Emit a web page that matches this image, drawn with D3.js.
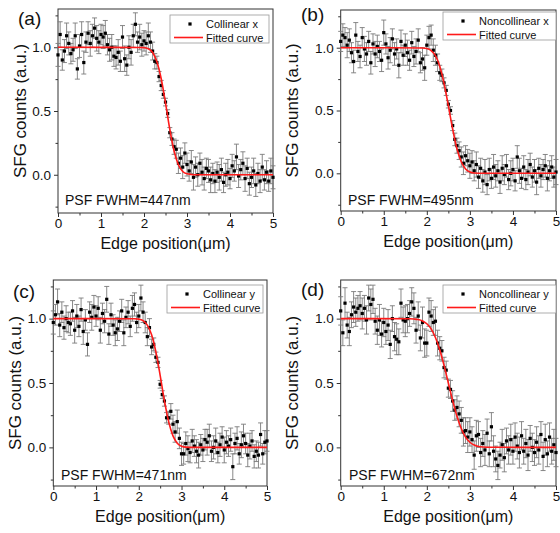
<!DOCTYPE html>
<html>
<head>
<meta charset="utf-8">
<script src="https://cdn.jsdelivr.net/npm/d3@7"></script>
<style>
  body { margin: 0; background: #fff; }
  svg { font-family: Arial, "Liberation Sans", sans-serif; }
</style>
</head>
<body>
<svg id="fig" width="560" height="533"></svg>
<script>
// scan positions (um), 0.05 um step, 101 samples
const edgePos = d3.range(101).map(i => +(i * 0.05).toFixed(2));

// (a) collinear x
const countsA = [0.94, 1.10, 0.90, 0.97, 1.09, 1.03, 0.95, 0.98, 1.09, 0.83, 1.01,
  1.10, 0.88, 1.04, 1.11, 1.03, 1.09, 1.15, 1.07, 1.04, 1.10,
  1.08, 1.11, 1.02, 0.98, 1.00, 0.93, 0.92, 0.96, 0.89, 1.08,
  0.91, 0.86, 1.00, 0.96, 1.09, 1.18, 1.04, 1.08, 1.02, 1.05,
  1.03, 1.09, 1.04, 0.97, 0.89, 0.88, 0.77, 0.70, 0.63, 0.57,
  0.48, 0.33, 0.28, 0.22, 0.20, 0.09, 0.13, 0.06, 0.17, 0.08,
  0.03, 0.10, -0.02, 0.06, 0.00, 0.09, 0.02, -0.03, 0.05, 0.03,
  -0.04, 0.01, -0.05, 0.02, -0.02, 0.04, -0.06, 0.00, 0.02, -0.03,
  0.07, 0.03, 0.14, -0.01, 0.04, 0.09, -0.03, 0.05, -0.07, -0.02,
  0.03, -0.08, 0.01, -0.05, 0.06, -0.04, 0.02, -0.05, 0.03, -0.02];
const errA = [0.09, 0.10, 0.08, 0.09, 0.10, 0.09, 0.08, 0.09, 0.10, 0.08, 0.09,
  0.10, 0.09, 0.08, 0.09, 0.10, 0.09, 0.08, 0.10, 0.09, 0.08,
  0.09, 0.10, 0.08, 0.09, 0.10, 0.08, 0.09, 0.10, 0.08, 0.09,
  0.10, 0.08, 0.09, 0.10, 0.09, 0.09, 0.08, 0.10, 0.09, 0.08,
  0.09, 0.10, 0.08, 0.07, 0.06, 0.05, 0.04, 0.04, 0.03, 0.03,
  0.03, 0.04, 0.05, 0.06, 0.07, 0.08, 0.08, 0.09, 0.08, 0.09,
  0.08, 0.09, 0.10, 0.08, 0.09, 0.08, 0.10, 0.09, 0.08, 0.09,
  0.10, 0.08, 0.09, 0.08, 0.10, 0.09, 0.08, 0.09, 0.10, 0.08,
  0.09, 0.08, 0.10, 0.09, 0.08, 0.09, 0.10, 0.08, 0.09, 0.08,
  0.10, 0.09, 0.08, 0.09, 0.10, 0.08, 0.09, 0.08, 0.10, 0.09];
const fitXA = [0, 1.9, 2.0, 2.1, 2.2, 2.3, 2.4, 2.5, 2.6, 2.7, 2.8, 2.9, 3.0, 3.1, 3.2, 5];
const fitYA = [1, 0.998, 0.997, 0.988, 0.959, 0.887, 0.753, 0.563, 0.356, 0.186, 0.078, 0.026, 0.007, 0.002, 0, 0];

// (b) noncollinear x
const countsB = [1.05, 1.10, 1.08, 1.02, 1.06, 0.96, 0.89, 1.10, 0.97, 0.93, 1.08,
  0.99, 0.95, 1.05, 0.88, 1.03, 0.95, 1.01, 0.97, 0.90, 1.12,
  1.03, 0.92, 0.98, 1.07, 0.95, 0.99, 0.86, 1.05, 0.94, 1.02,
  0.96, 0.90, 1.04, 0.93, 0.97, 1.06, 0.88, 0.91, 0.84, 1.02,
  1.08, 1.10, 0.98, 0.94, 0.88, 0.80, 0.78, 0.72, 0.66, 0.55,
  0.50, 0.38, 0.27, 0.22, 0.18, 0.13, 0.08, 0.14, 0.10, 0.06,
  0.09, 0.02, 0.07, -0.03, 0.04, -0.06, 0.01, -0.09, 0.03, -0.04,
  0.05, -0.02, 0.02, -0.07, 0.04, -0.01, 0.06, -0.05, 0.00, 0.03,
  -0.06, 0.13, 0.02, -0.04, 0.05, -0.05, 0.01, 0.07, -0.03, 0.02,
  -0.07, 0.04, -0.02, 0.03, 0.06, -0.04, 0.02, 0.05, -0.03, 0.01];
const errB = [0.08, 0.09, 0.08, 0.10, 0.09, 0.08, 0.09, 0.10, 0.08, 0.09, 0.08,
  0.10, 0.09, 0.08, 0.09, 0.08, 0.10, 0.09, 0.08, 0.09, 0.10,
  0.08, 0.09, 0.10, 0.08, 0.09, 0.08, 0.10, 0.09, 0.08, 0.09,
  0.10, 0.08, 0.09, 0.08, 0.10, 0.09, 0.08, 0.09, 0.10, 0.08,
  0.09, 0.08, 0.09, 0.08, 0.07, 0.06, 0.05, 0.04, 0.04, 0.03,
  0.03, 0.04, 0.05, 0.06, 0.07, 0.08, 0.09, 0.08, 0.09, 0.10,
  0.09, 0.08, 0.10, 0.09, 0.08, 0.09, 0.10, 0.08, 0.09, 0.08,
  0.10, 0.09, 0.08, 0.09, 0.10, 0.08, 0.09, 0.08, 0.10, 0.09,
  0.08, 0.09, 0.10, 0.08, 0.09, 0.08, 0.10, 0.09, 0.08, 0.09,
  0.10, 0.08, 0.09, 0.08, 0.09, 0.10, 0.08, 0.09, 0.08, 0.10];
const fitXB = [0, 1.9, 2.0, 2.1, 2.2, 2.3, 2.4, 2.5, 2.6, 2.7, 2.8, 2.9, 3.0, 3.1, 3.3, 5];
const fitYB = [1, 0.998, 0.993, 0.977, 0.936, 0.853, 0.716, 0.538, 0.352, 0.195, 0.092, 0.035, 0.011, 0.003, 0, 0];

// (c) collinear y
const countsC = [0.97, 1.03, 1.13, 0.95, 1.05, 0.93, 1.00, 0.97, 0.96, 1.06, 0.91,
  1.02, 0.94, 1.07, 0.90, 0.99, 0.80, 1.05, 1.01, 1.09, 1.02,
  1.08, 0.91, 1.04, 0.98, 1.15, 0.88, 1.03, 0.95, 0.89, 0.92,
  0.98, 1.06, 0.89, 1.01, 1.05, 0.94, 1.08, 1.11, 0.97, 1.02,
  1.16, 1.05, 0.97, 0.86, 0.93, 0.78, 0.80, 0.70, 0.66, 0.49,
  0.41, 0.36, 0.23, 0.23, 0.28, 0.18, 0.12, 0.20, 0.07, -0.05,
  -0.05, 0.03, -0.01, -0.04, 0.05, 0.01, -0.03, -0.06, 0.02, -0.02,
  0.06, 0.04, 0.09, -0.03, 0.00, 0.05, -0.04, 0.02, 0.08, -0.02,
  0.04, 0.01, 0.06, -0.15, 0.03, 0.07, -0.05, 0.02, 0.09, 0.03,
  -0.06, 0.01, 0.05, -0.07, -0.03, -0.06, 0.10, -0.05, 0.04, 0.05];
const errC = [0.09, 0.08, 0.10, 0.09, 0.08, 0.09, 0.10, 0.08, 0.09, 0.08, 0.10,
  0.09, 0.08, 0.09, 0.10, 0.08, 0.09, 0.08, 0.10, 0.09, 0.08,
  0.09, 0.10, 0.08, 0.09, 0.10, 0.08, 0.09, 0.08, 0.10, 0.09,
  0.08, 0.09, 0.10, 0.08, 0.09, 0.08, 0.10, 0.09, 0.08, 0.09,
  0.10, 0.08, 0.08, 0.07, 0.07, 0.06, 0.05, 0.04, 0.04, 0.03,
  0.03, 0.04, 0.04, 0.05, 0.06, 0.07, 0.08, 0.09, 0.08, 0.09,
  0.08, 0.09, 0.10, 0.08, 0.09, 0.08, 0.09, 0.10, 0.08, 0.09,
  0.08, 0.10, 0.09, 0.08, 0.09, 0.10, 0.08, 0.09, 0.08, 0.10,
  0.09, 0.08, 0.09, 0.10, 0.08, 0.09, 0.08, 0.10, 0.09, 0.08,
  0.09, 0.10, 0.08, 0.09, 0.08, 0.10, 0.09, 0.08, 0.09, 0.08];
const fitXC = [0, 1.9, 2.0, 2.1, 2.2, 2.3, 2.4, 2.5, 2.6, 2.7, 2.8, 2.9, 3.0, 3.1, 3.3, 5];
const fitYC = [1, 0.999, 0.996, 0.984, 0.95, 0.875, 0.742, 0.56, 0.363, 0.198, 0.089, 0.032, 0.009, 0.002, 0, 0];

// (d) noncollinear y
const countsD = [1.06, 0.89, 1.12, 0.95, 0.90, 1.03, 1.09, 1.05, 1.08, 1.10, 1.04,
  1.08, 0.99, 1.16, 1.11, 1.15, 0.98, 0.91, 0.99, 0.88, 0.97,
  0.90, 0.95, 0.80, 1.00, 0.86, 0.84, 0.82, 1.12, 0.99, 0.98,
  1.00, 1.04, 1.13, 1.08, 0.91, 1.02, 0.85, 0.97, 0.81, 0.81,
  1.05, 1.02, 0.97, 0.98, 0.81, 0.77, 0.75, 0.62, 0.60, 0.46,
  0.45, 0.36, 0.29, 0.31, 0.26, 0.21, 0.12, 0.13, 0.08, 0.12,
  0.06, -0.06, 0.09, 0.10, -0.04, 0.03, -0.02, 0.11, -0.05, 0.16,
  -0.03, -0.09, -0.14, -0.06, 0.02, -0.08, 0.05, -0.02, 0.06, -0.03,
  0.08, 0.01, -0.04, 0.09, -0.03, 0.03, -0.06, 0.07, 0.00, -0.04,
  0.04, -0.02, 0.10, -0.07, 0.06, -0.05, 0.08, -0.03, 0.02, -0.04];
const errD = [0.11, 0.10, 0.12, 0.10, 0.11, 0.10, 0.12, 0.11, 0.10, 0.11, 0.12,
  0.10, 0.11, 0.10, 0.12, 0.11, 0.10, 0.11, 0.12, 0.10, 0.11,
  0.10, 0.12, 0.11, 0.10, 0.11, 0.12, 0.10, 0.11, 0.10, 0.12,
  0.11, 0.10, 0.11, 0.12, 0.10, 0.11, 0.10, 0.12, 0.11, 0.10,
  0.11, 0.12, 0.10, 0.11, 0.10, 0.09, 0.08, 0.08, 0.07, 0.07,
  0.07, 0.08, 0.08, 0.09, 0.10, 0.10, 0.11, 0.10, 0.12, 0.11,
  0.10, 0.11, 0.12, 0.10, 0.11, 0.10, 0.12, 0.11, 0.10, 0.11,
  0.12, 0.10, 0.11, 0.10, 0.12, 0.11, 0.10, 0.11, 0.12, 0.10,
  0.11, 0.10, 0.12, 0.11, 0.10, 0.11, 0.12, 0.10, 0.11, 0.10,
  0.12, 0.11, 0.10, 0.11, 0.12, 0.10, 0.11, 0.10, 0.12, 0.11];
const fitXD = [0, 1.6, 1.7, 1.8, 1.9, 2.0, 2.1, 2.2, 2.3, 2.4, 2.5, 2.6, 2.7, 2.8, 2.9, 3.0, 3.1, 3.2, 3.4, 5];
const fitYD = [1, 0.999, 0.997, 0.993, 0.982, 0.96, 0.92, 0.853, 0.758, 0.637, 0.5, 0.363, 0.242, 0.147, 0.08, 0.04, 0.018, 0.007, 0.001, 0];

const xTicks = [0, 1, 2, 3, 4, 5];
const xMinor = [0.5, 1.5, 2.5, 3.5, 4.5];
const yTicks = [0, 0.5, 1.0];
const yMinor = [-0.25, 0.25, 0.75, 1.25];

const panels = [
  {tag: "(a)", name: "Collinear x", fwhm: "PSF FWHM=447nm", y: countsA, e: errA, fx: fitXA, fy: fitYA,
   left: 58, right: 273, top: 9, bottom: 213, tagX: 18, tagY: 25, titleX: 20, psfX: 65, psfY: 205, lx: 170, ly: 15, lw: 99},
  {tag: "(b)", name: "Noncollinear x", fwhm: "PSF FWHM=495nm", y: countsB, e: errB, fx: fitXB, fy: fitYB,
   left: 340.7, right: 556, top: 10, bottom: 211, tagX: 301, tagY: 21, titleX: 292, psfX: 348, psfY: 205, lx: 443, ly: 12, lw: 113},
  {tag: "(c)", name: "Collinear y", fwhm: "PSF FWHM=471nm", y: countsC, e: errC, fx: fitXC, fy: fitYC,
   left: 53.3, right: 267, top: 280, bottom: 486, tagX: 13, tagY: 298, titleX: 15, psfX: 61, psfY: 480, lx: 167, ly: 285, lw: 96},
  {tag: "(d)", name: "Noncollinear y", fwhm: "PSF FWHM=672nm", y: countsD, e: errD, fx: fitXD, fy: fitYD,
   left: 340.7, right: 556, top: 280, bottom: 486, tagX: 301, tagY: 296, titleX: 292, psfX: 349, psfY: 480, lx: 443, ly: 285, lw: 113}
];

let svg = d3.select("#fig");

panels.forEach(p => {
  let x = d3.scaleLinear().domain([0, 5]).range([p.left, p.right]);
  let y = d3.scaleLinear().domain([-0.3, 1.3]).range([p.bottom, p.top]);
  let g = svg.append("g");

  // axes
  let xAx = g.append("g").attr("transform", "translate(0," + p.bottom + ")")
    .call(d3.axisBottom(x).tickValues(xTicks).tickFormat(d3.format("d")).tickSize(4).tickPadding(1).tickSizeOuter(0));
  g.append("g").attr("transform", "translate(0," + p.bottom + ")")
    .call(d3.axisBottom(x).tickValues(xMinor).tickFormat("").tickSize(2.5).tickSizeOuter(0));
  let yAx = g.append("g").attr("transform", "translate(" + p.left + ",0)")
    .call(d3.axisLeft(y).tickValues(yTicks).tickFormat(d3.format(".1f")).tickSize(4).tickPadding(3).tickSizeOuter(0));
  g.append("g").attr("transform", "translate(" + p.left + ",0)")
    .call(d3.axisLeft(y).tickValues(yMinor).tickFormat("").tickSize(2.5).tickSizeOuter(0));
  g.selectAll(".domain").remove();
  g.selectAll(".tick line").attr("stroke", "#333");
  g.selectAll(".tick text").attr("font-size", 13.5).attr("fill", "#111")
    .attr("font-family", "Arial, 'Liberation Sans', sans-serif");

  g.append("rect").attr("x", p.left).attr("y", p.top)
    .attr("width", p.right - p.left).attr("height", p.bottom - p.top)
    .attr("fill", "none").attr("stroke", "#333").attr("stroke-width", 1);

  // titles
  g.append("text").attr("x", (p.left + p.right) / 2).attr("y", p.bottom + 36)
    .attr("text-anchor", "middle").attr("font-size", 16).attr("fill", "#111")
    .text("Edge position(\u03bcm)");
  g.append("text")
    .attr("transform", "translate(" + p.titleX + "," + ((p.top + p.bottom) / 2) + ")rotate(-90)")
    .attr("text-anchor", "middle").attr("dy", "0.35em").attr("font-size", 17).attr("fill", "#111")
    .text("SFG counts (a.u.)");
  g.append("text").attr("x", p.tagX).attr("y", p.tagY).attr("font-size", 19).attr("fill", "#111").text(p.tag);
  g.append("text").attr("x", p.psfX).attr("y", p.psfY).attr("font-size", 14).attr("fill", "#111").text(p.fwhm);

  // data with error bars
  let pts = edgePos.map((v, i) => ({x: v, y: p.y[i], e: p.e[i]}));
  let bars = g.append("g").attr("stroke", "#7a7a7a").attr("stroke-width", 0.9);
  pts.forEach(d => {
    let cx = x(d.x), y1 = y(d.y + d.e), y2 = y(d.y - d.e);
    bars.append("line").attr("x1", cx).attr("x2", cx).attr("y1", y1).attr("y2", y2);
    bars.append("line").attr("x1", cx - 2.5).attr("x2", cx + 2.5).attr("y1", y1).attr("y2", y1);
    bars.append("line").attr("x1", cx - 2.5).attr("x2", cx + 2.5).attr("y1", y2).attr("y2", y2);
  });
  g.append("g").selectAll("rect").data(pts).enter().append("rect")
    .attr("x", d => x(d.x) - 1.6).attr("y", d => y(d.y) - 1.6)
    .attr("width", 3.2).attr("height", 3.2).attr("fill", "#000");

  // fitted curve
  let fit = p.fx.map((v, i) => ({x: v, y: p.fy[i]}));
  let line = d3.line().curve(d3.curveMonotoneX).x(d => x(d.x)).y(d => y(d.y));
  g.append("path").attr("d", line(fit)).attr("fill", "none")
    .attr("stroke", "#ff1a1a").attr("stroke-width", 1.6);

  // legend
  let lg = g.append("g").attr("transform", "translate(" + p.lx + "," + p.ly + ")");
  lg.append("rect").attr("width", p.lw).attr("height", 28)
    .attr("fill", "#fff").attr("stroke", "#999").attr("stroke-width", 0.8);
  lg.append("rect").attr("x", 18.4).attr("y", 7.4).attr("width", 3.2).attr("height", 3.2).attr("fill", "#000");
  lg.append("line").attr("x1", 4).attr("x2", 33).attr("y1", 22.5).attr("y2", 22.5)
    .attr("stroke", "#ff1a1a").attr("stroke-width", 1.6);
  lg.append("text").attr("x", 36).attr("y", 13).attr("font-size", 11).attr("fill", "#111").text(p.name);
  lg.append("text").attr("x", 36).attr("y", 26.5).attr("font-size", 11).attr("fill", "#111").text("Fitted curve");
});
</script>
</body>
</html>
